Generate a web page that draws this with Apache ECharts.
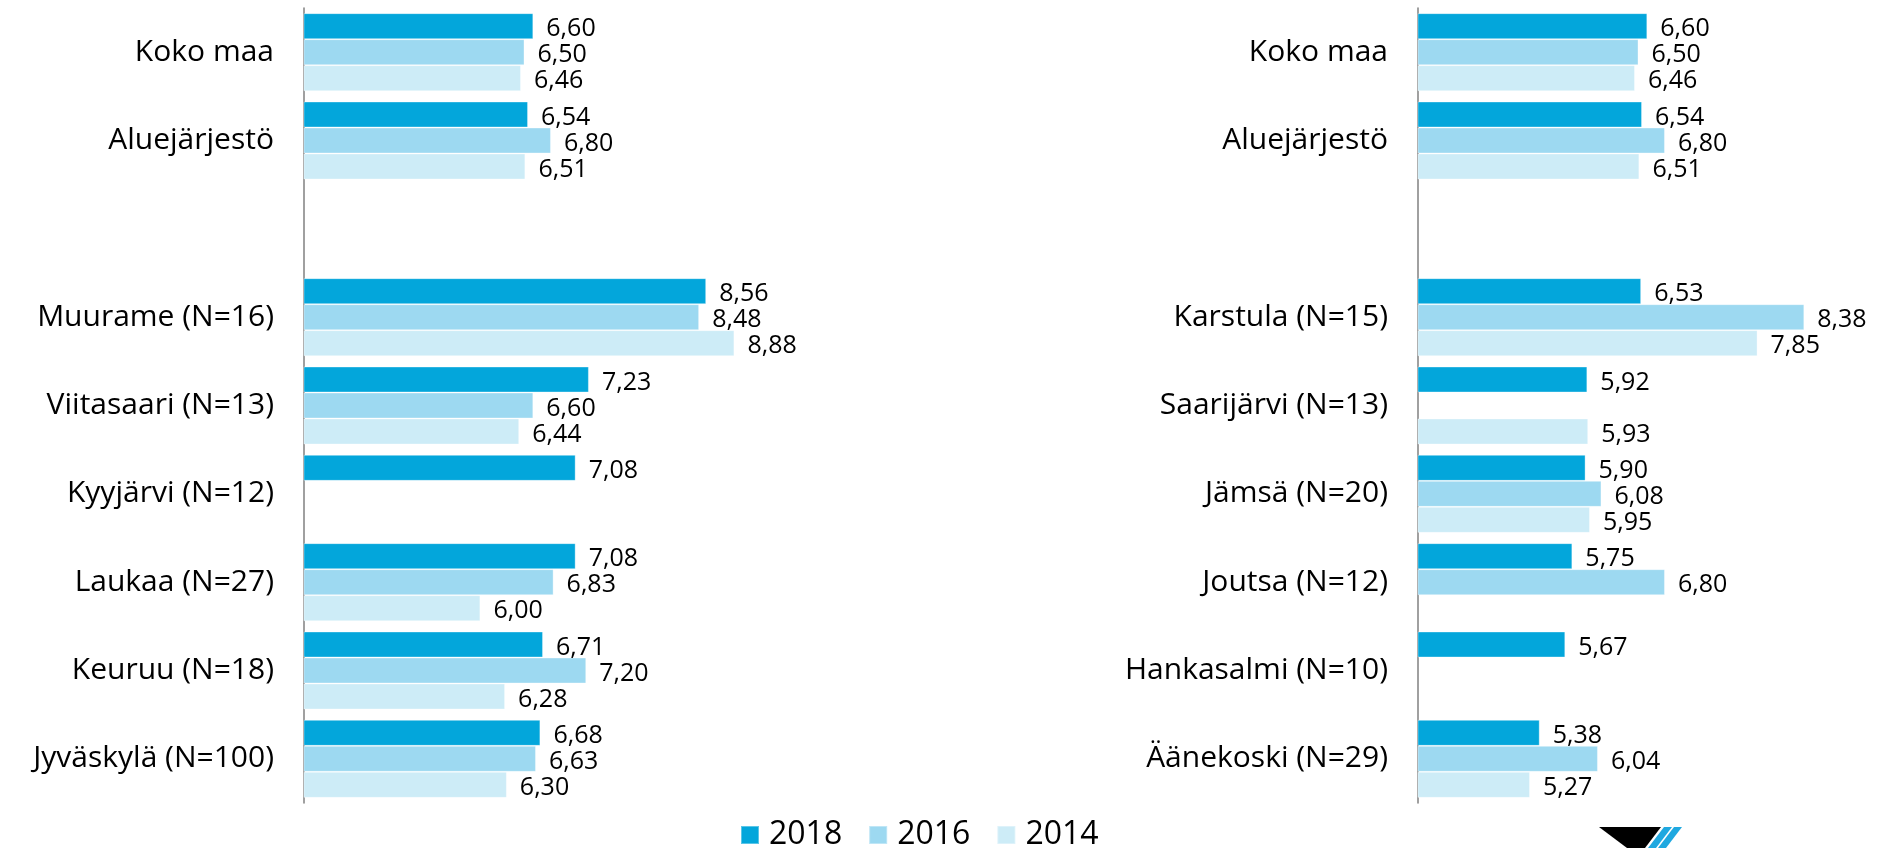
<!DOCTYPE html>
<html>
<head>
<meta charset="utf-8">
<script src="https://cdn.jsdelivr.net/npm/echarts@6/dist/echarts.min.js"></script>
<style>
    html, body { margin: 0; padding: 0; background: #fff; }
    #chart { width: 1890px; height: 848px; }
</style>
</head>
<body>
<div id="chart"></div>
<script>
// vasen paneeli
var leftCats = ['Koko maa', 'Aluejärjestö', '', 'Muurame (N=16)', 'Viitasaari (N=13)', 'Kyyjärvi (N=12)', 'Laukaa (N=27)', 'Keuruu (N=18)', 'Jyväskylä (N=100)'];
var left2018 = [6.60, 6.54, '-', 8.56, 7.23, 7.08, 7.08, 6.71, 6.68];
var left2016 = [6.50, 6.80, '-', 8.48, 6.60, '-', 6.83, 7.20, 6.63];
var left2014 = [6.46, 6.51, '-', 8.88, 6.44, '-', 6.00, 6.28, 6.30];

// oikea paneeli
var rightCats = ['Koko maa', 'Aluejärjestö', '', 'Karstula (N=15)', 'Saarijärvi (N=13)', 'Jämsä (N=20)', 'Joutsa (N=12)', 'Hankasalmi (N=10)', 'Äänekoski (N=29)'];
var right2018 = [6.60, 6.54, '-', 6.53, 5.92, 5.90, 5.75, 5.67, 5.38];
var right2016 = [6.50, 6.80, '-', 8.38, '-', 6.08, 6.80, '-', 6.04];
var right2014 = [6.46, 6.51, '-', 7.85, 5.93, 5.95, '-', '-', 5.27];

var years = ['2018', '2016', '2014'];
var colors = ['#03a6db', '#9dd9f1', '#cdecf7'];

var font = '"Open Sans", sans-serif';

function xAxis(idx) {
    return {
        type: 'value', gridIndex: idx, min: 4, max: 9,
        show: false
    };
}

function yAxis(idx, cats) {
    return {
        type: 'category', gridIndex: idx, data: cats, inverse: true,
        axisLine: { lineStyle: { color: '#808080', width: 1.5 } },
        axisTick: { show: false },
        splitLine: { show: false },
        axisLabel: { color: '#000', fontSize: 30, fontFamily: font, margin: 30 }
    };
}

function bar(name, idx, data, color) {
    return {
        name: name, type: 'bar', xAxisIndex: idx, yAxisIndex: idx,
        data: data,
        barGap: '0%',
        barCategoryGap: '11.7%',
        itemStyle: { color: color, borderColor: 'rgba(255,255,255,0.35)', borderWidth: 1 },
        label: {
            show: true, position: 'right', distance: 13, offset: [0, 3],
            color: '#000', fontSize: 25, fontFamily: font,
            formatter: function (p) { return p.value.toFixed(2).replace('.', ','); }
        },
        emphasis: { disabled: true }
    };
}

var chart = echarts.init(document.getElementById('chart'));
chart.setOption({
    animation: false,
    color: colors,
    grid: [
        { left: 304, top: 8, width: 441, height: 795, containLabel: false, outerBoundsMode: 'none' },
        { left: 1418, top: 8, width: 441, height: 795, containLabel: false, outerBoundsMode: 'none' }
    ],
    xAxis: [xAxis(0), xAxis(1)],
    yAxis: [yAxis(0, leftCats), yAxis(1, rightCats)],
    legend: {
        data: years,
        left: 735, top: 812,
        itemWidth: 18, itemHeight: 18, itemGap: 26,
        icon: 'rect',
        textStyle: { fontSize: 32, fontFamily: font, color: '#000', lineHeight: 36, padding: [0, 0, 0, 5] }
    },
    series: [
        bar('2018', 0, left2018, colors[0]),
        bar('2016', 0, left2016, colors[1]),
        bar('2014', 0, left2014, colors[2]),
        bar('2018', 1, right2018, colors[0]),
        bar('2016', 1, right2016, colors[1]),
        bar('2014', 1, right2014, colors[2])
    ],
    // logo oikeassa alakulmassa (leikkautuu reunaan)
    graphic: [
        { type: 'polygon', shape: { points: [[1599, 827], [1661, 827], [1645, 848], [1627, 848]] }, style: { fill: '#000' } },
        { type: 'polygon', shape: { points: [[1664, 827], [1672, 827], [1656, 848], [1648, 848]] }, style: { fill: '#1fa8e0' } },
        { type: 'polygon', shape: { points: [[1674, 827], [1682, 827], [1666, 848], [1658, 848]] }, style: { fill: '#1fa8e0' } }
    ]
});
</script>
</body>
</html>
